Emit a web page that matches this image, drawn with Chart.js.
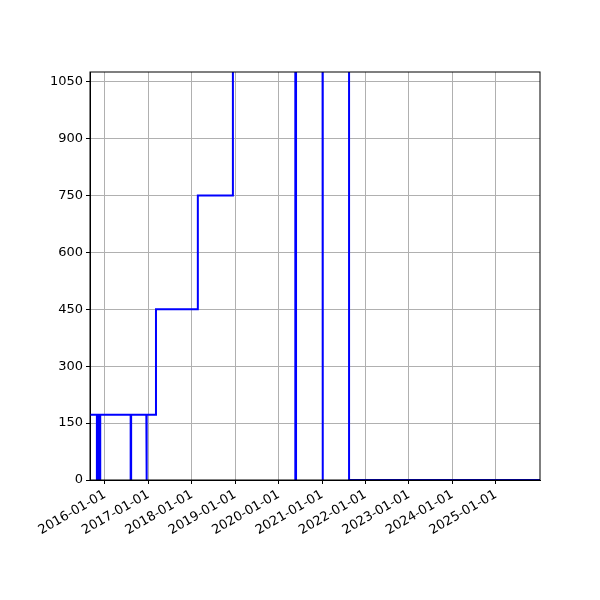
<!DOCTYPE html><html><head><script src="https://cdn.jsdelivr.net/npm/chart.js@4"></script>
<style>body{margin:0;background:#fff}#w{width:600px;height:600px}</style></head><body><div id="w"><canvas id="c"></canvas></div>
<script>
const tickYears=[2016,2017,2018,2019,2020,2021,2022,2023,2024,2025];
const yTicks=[0,150,300,450,600,750,900,1050];
const eventDates=['2015-08-28','2015-10-25','2015-10-28','2015-11-05','2015-11-12','2015-11-16','2015-11-22','2016-08-04','2016-08-08','2016-12-14','2016-12-18','2017-03-05','2018-02-20','2018-12-12','2020-05-20','2020-05-26','2021-01-03','2021-01-07','2021-08-15','2026-01-07'];
const eventValues=[172,0,172,0,172,0,172,0,172,0,172,450,750,2000,0,2000,0,2000,0,0];
const ts=d=>Date.parse(d+'T00:00:00Z');
const pts=[];let prev=null;
eventDates.forEach((d,i)=>{const x=ts(d),v=eventValues[i];if(prev!==null)pts.push({x,y:prev});pts.push({x,y:v});prev=v;});
const font={family:'DejaVu Sans',size:13};
new Chart(document.getElementById('c'),{type:'line',
data:{datasets:[{data:pts,borderColor:'#0000ff',borderWidth:2,pointRadius:0,tension:0,fill:false}]},
options:{animation:false,responsive:true,maintainAspectRatio:false,
layout:{padding:{top:72,right:60,left:0,bottom:0}},
plugins:{legend:{display:false},tooltip:{enabled:false}},
scales:{
x:{type:'linear',min:ts('2015-08-28'),max:ts('2026-01-07'),
 afterBuildTicks:a=>{a.ticks=tickYears.map(y=>({value:ts(y+'-01-01')}));},
 afterFit:a=>{a.height=120;},
 grid:{color:'#b0b0b0',drawTicks:true,tickLength:4,tickColor:'#000'},border:{color:'#000',width:1},
 ticks:{color:'#000',font,maxRotation:30,minRotation:30,autoSkip:false,callback:v=>new Date(v).getUTCFullYear()+'-01-01'}},
y:{min:0,max:1076,afterBuildTicks:a=>{a.ticks=yTicks.map(v=>({value:v}));},
 afterFit:a=>{a.width=90;},
 grid:{color:'#b0b0b0',tickLength:4,tickColor:'#000'},border:{color:'#000',width:1},
 ticks:{color:'#000',font,callback:v=>String(v)}}}},
plugins:[{id:'frame',afterDraw(c){const a=c.chartArea,g=c.ctx;g.save();g.strokeStyle='#000';g.lineWidth=1;g.strokeRect(a.left,a.top,a.right-a.left,a.bottom-a.top);g.restore();}}]});
</script></body></html>
